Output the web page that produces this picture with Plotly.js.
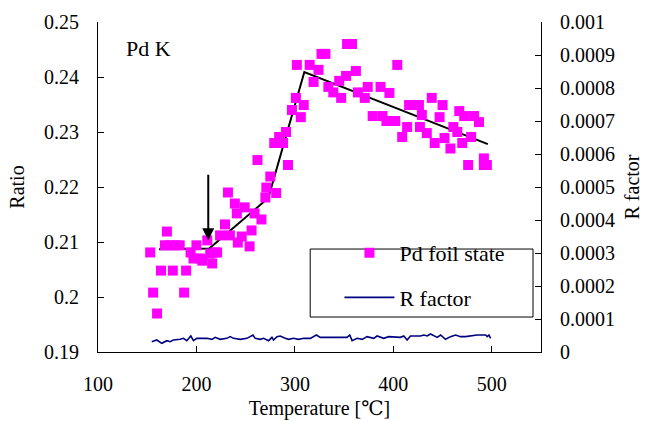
<!DOCTYPE html>
<html>
<head>
<meta charset="utf-8">
<script src="https://cdn.plot.ly/plotly-3.0.1.min.js"></script>
<style>html,body{margin:0;padding:0;background:#fff}#chart{width:647px;height:421px}</style>
</head>
<body>
<div id="chart"></div>
<script>
// Pd foil state (Ratio vs Temperature)
const pdTemp = [153,156,160,164,168,170,173,176,179,183,187.5,189.5,194,197,200,204,206,211,214,216,219,221,224,229,232,234,239,241,242,246,249,254,256,259,262,266,270,271,275,279,281,284,288,291,293,297,301,302,306,309,315,319,324,327,331,334,339,345,347,352,353,358,362,364,371,374,379,387,389,393,396,402,404,409,414,416,426,427,429,434,439,442,447,450,452,458,461,465,467,470,472,476,479,482,487,492,492,495];
const pdRatio = [0.2081,0.2008,0.1970,0.2048,0.2094,0.2119,0.2094,0.2048,0.2094,0.2094,0.2008,0.2048,0.2081,0.2070,0.2094,0.2070,0.2066,0.2103,0.2079,0.2061,0.2081,0.2081,0.2112,0.2132,0.2190,0.2112,0.2170,0.2152,0.2099,0.2110,0.2163,0.2092,0.2121,0.2152,0.2249,0.2141,0.2181,0.2199,0.2219,0.2280,0.2189,0.2291,0.2280,0.2300,0.2240,0.2340,0.2362,0.2422,0.2327,0.2349,0.2422,0.2391,0.2413,0.2442,0.2442,0.2382,0.2372,0.2393,0.2362,0.2402,0.2460,0.2460,0.2411,0.2372,0.2362,0.2382,0.2329,0.2382,0.2329,0.2320,0.2371,0.2320,0.2422,0.2291,0.2309,0.2349,0.2349,0.2309,0.2331,0.2298,0.2362,0.2280,0.2327,0.2349,0.2289,0.2270,0.2309,0.2300,0.2338,0.2280,0.2329,0.2240,0.2291,0.2329,0.2318,0.2252,0.2240,0.2240];

// Piecewise trend line
const fitTemp = [162,213,273,309.6,496];
const fitRatio = [0.2087,0.2088,0.2180,0.2409,0.2278];

// R factor
const rTemp = [154.6,159.7,164.8,169.9,173.2,176.6,183.4,186.8,190.2,194.3,197,200.4,210.6,215.7,219,224.1,230.9,234.3,237.6,244.5,251.3,257.4,259.7,264.8,268.2,273.3,276.7,278.3,281.8,285.1,290.2,293.6,298.7,303.8,308.9,315.7,321.8,325.8,353,355.7,358.1,363.2,368.3,373.3,380.1,383.5,390.2,395.3,407.2,410.6,414,417.4,427.6,431,434.4,437.7,444.6,448,453,458.1,463.2,468.3,473.3,478.4,485.2,493.7,495.4,497.1,498.8];
const rVal = [0.0000313,0.0000364,0.0000263,0.0000343,0.0000313,0.0000364,0.0000384,0.0000414,0.0000343,0.0000485,0.0000343,0.0000414,0.0000414,0.0000384,0.0000444,0.0000384,0.0000414,0.0000465,0.0000414,0.0000384,0.0000414,0.0000515,0.0000414,0.0000384,0.0000414,0.0000343,0.0000444,0.0000364,0.0000465,0.0000485,0.0000414,0.0000384,0.0000414,0.0000384,0.0000414,0.0000414,0.0000515,0.0000444,0.0000444,0.0000515,0.0000343,0.0000414,0.0000384,0.0000465,0.0000414,0.0000485,0.0000414,0.0000465,0.0000444,0.0000485,0.0000364,0.0000485,0.0000485,0.0000515,0.0000485,0.0000545,0.0000444,0.0000515,0.0000384,0.0000465,0.0000515,0.0000465,0.0000465,0.0000485,0.0000515,0.0000515,0.0000465,0.0000515,0.0000414];

const xTicks = [100,200,300,400,500];
const yTicks = [0.19,0.2,0.21,0.22,0.23,0.24,0.25];
const yTickText = ['0.19','0.2','0.21','0.22','0.23','0.24','0.25'];
const y2Ticks = [0,0.0001,0.0002,0.0003,0.0004,0.0005,0.0006,0.0007,0.0008,0.0009,0.001];
const y2TickText = ['0','0.0001','0.0002','0.0003','0.0004','0.0005','0.0006','0.0007','0.0008','0.0009','0.001'];

const F = 'Times New Roman, Liberation Serif, DejaVu Serif, serif';

const traces = [
  {x: rTemp, y: rVal, yaxis: 'y2', type: 'scatter', mode: 'lines', name: 'R factor',
   line: {color: '#000080', width: 1.6}, legend: 'legend2'},
  {x: fitTemp, y: fitRatio, type: 'scatter', mode: 'lines', showlegend: false,
   line: {color: '#000000', width: 2}},
  {x: pdTemp, y: pdRatio, type: 'scatter', mode: 'markers', name: 'Pd foil state',
   marker: {symbol: 'square', size: 10, color: '#FF00FF'}, legend: 'legend'}
];

const layout = {
  width: 647, height: 421,
  margin: {l: 98, r: 106, t: 22, b: 69},
  paper_bgcolor: '#fff', plot_bgcolor: '#fff',
  font: {family: F, size: 20, color: '#000'},
  showlegend: true,
  xaxis: {range: [100, 550], tickvals: xTicks, ticks: 'inside', ticklen: 6, tickcolor: '#000',
    showline: true, linecolor: '#000', linewidth: 1, showgrid: false, zeroline: false,
    ticklabelstandoff: 14, tickfont: {family: F, size: 20},
    title: {text: 'Temperature [℃]', font: {family: F, size: 20}, standoff: 6}},
  yaxis: {range: [0.19, 0.25], tickvals: yTicks, ticktext: yTickText, ticks: 'inside', ticklen: 6,
    tickcolor: '#000', showline: true, linecolor: '#000', linewidth: 1, showgrid: false, zeroline: false,
    ticklabelstandoff: 14, tickfont: {family: F, size: 20},
    title: {text: 'Ratio', font: {family: F, size: 20}, standoff: 14}},
  yaxis2: {range: [0, 0.001], overlaying: 'y', side: 'right', tickvals: y2Ticks, ticktext: y2TickText,
    ticks: 'inside', ticklen: 6, tickcolor: '#000', showline: true, linecolor: '#000', linewidth: 1,
    showgrid: false, zeroline: false, ticklabelstandoff: 14, tickfont: {family: F, size: 20},
    title: {text: 'R factor', font: {family: F, size: 20}, standoff: 10}},
  legend: {x: 0.545, y: 0.30, xanchor: 'left', yanchor: 'middle', bgcolor: 'rgba(0,0,0,0)',
    borderwidth: 0, font: {family: F, size: 22}, itemwidth: 50},
  legend2: {x: 0.545, y: 0.165, xanchor: 'left', yanchor: 'middle', bgcolor: 'rgba(0,0,0,0)',
    borderwidth: 0, font: {family: F, size: 22}, itemwidth: 50},
  shapes: [
    {type: 'rect', xref: 'paper', yref: 'paper', x0: 0.479, x1: 0.982, y0: 0.106, y1: 0.312,
     line: {color: '#000', width: 1}, fillcolor: '#fff', layer: 'below'}
  ],
  annotations: [
    {text: 'Pd K', xref: 'paper', yref: 'paper', x: 0.058, y: 0.92, xanchor: 'left', yanchor: 'middle',
     showarrow: false, font: {family: F, size: 22}},
    {x: 212, y: 0.2103, ax: 212, ay: 0.2225, xref: 'x', yref: 'y', axref: 'x', ayref: 'y',
     text: '', showarrow: true, arrowhead: 2, arrowsize: 1.2, arrowwidth: 2, arrowcolor: '#000'}
  ]
};

Plotly.newPlot('chart', traces, layout, {displayModeBar: false, staticPlot: true});
</script>
</body>
</html>
